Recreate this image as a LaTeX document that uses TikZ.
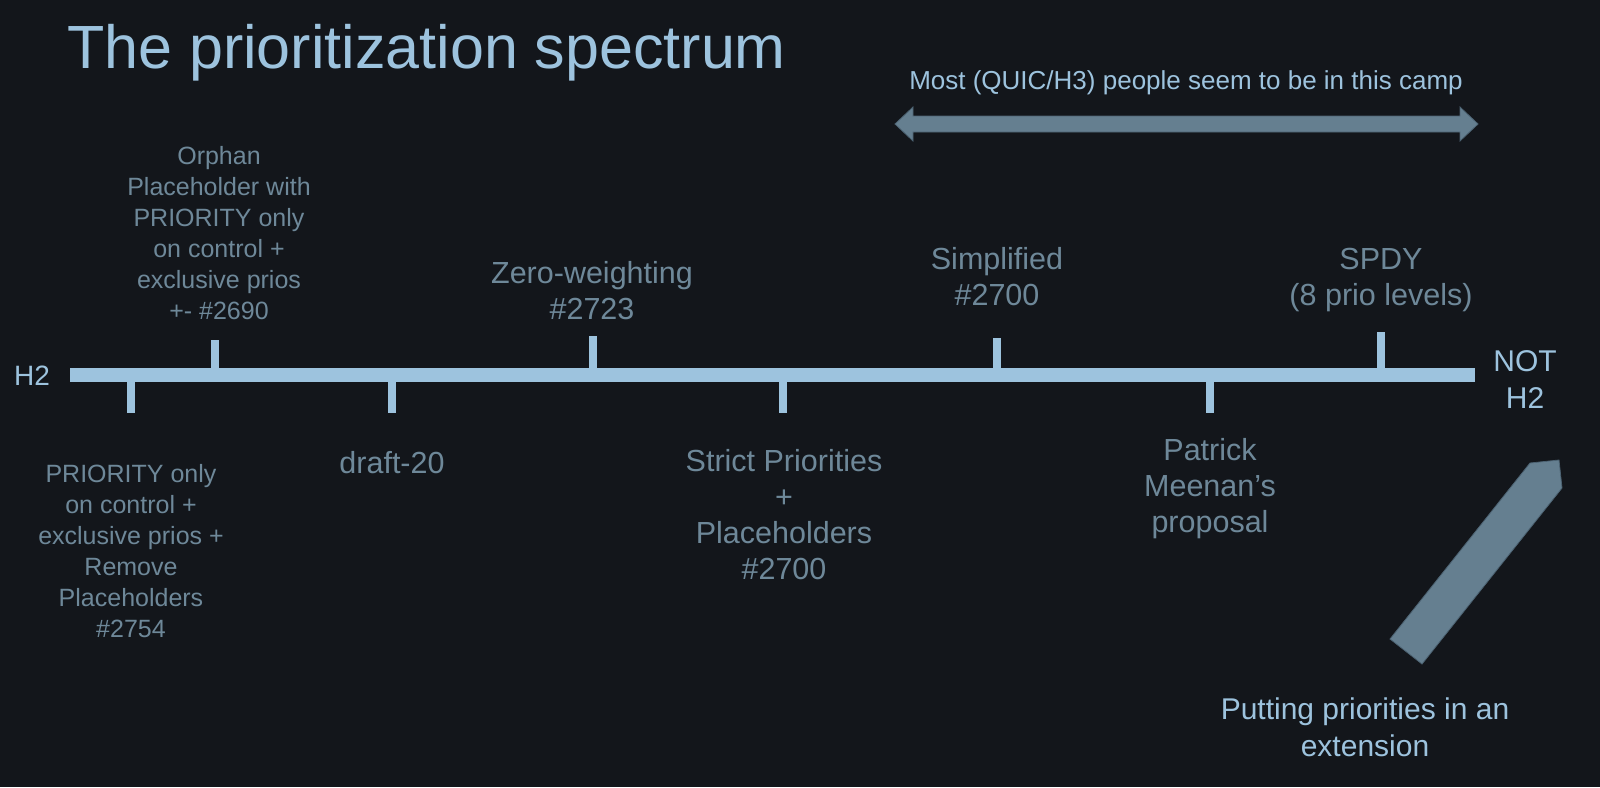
\documentclass[tikz,border=0pt]{standalone}
\usepackage{fontspec}
\setmainfont{Liberation Sans}
\usepackage{xcolor}
\definecolor{bgdark}{HTML}{13161B}
\definecolor{lightblue}{HTML}{9DC3DE}
\definecolor{labelgray}{HTML}{6E8899}
\definecolor{arrowgray}{HTML}{657F90}
\definecolor{arrowedge}{HTML}{4C6272}

\begin{document}
\begin{tikzpicture}[x=1pt, y=-1pt,
    smalllbl/.style={font=\fontsize{25}{31}\selectfont, text=labelgray, align=center, anchor=base, inner sep=0pt},
    biglbl/.style={font=\fontsize{30.5}{36}\selectfont, text=labelgray, align=center, anchor=base, inner sep=0pt},
    bluelbl/.style={font=\fontsize{30}{37}\selectfont, text=lightblue, align=center, anchor=base, inner sep=0pt},
    tickmark/.style={draw=lightblue, line width=8pt}]

    \fill[bgdark] (0, 0) rectangle (1600, 787);
    \useasboundingbox (0, 0) rectangle (1600, 787);

    % title
    \node[font=\fontsize{61}{70}\selectfont, text=lightblue, anchor=base west, inner sep=0pt] (title) at (67, 68) {The prioritization spectrum};

    % the spectrum bar
    \coordinate (barL) at (70, 375);
    \coordinate (barR) at (1475, 375);
    \draw[lightblue, line width=14pt] (barL) -- (barR);
    \node[bluelbl, font=\fontsize{28}{30}\selectfont] (h2) at (32, 385) {H2};
    \node[bluelbl] (noth2) at (1525, 408) {NOT\\H2};

    % ticks above
    \coordinate (up1) at (215, 375);
    \coordinate (up2) at (593, 375);
    \coordinate (up3) at (997, 375);
    \coordinate (up4) at (1381, 375);
    \draw[tickmark] (up1) -- ++(0, -35);
    \draw[tickmark] (up2) -- ++(0, -39);
    \draw[tickmark] (up3) -- ++(0, -37);
    \draw[tickmark] (up4) -- ++(0, -43);

    % ticks below
    \coordinate (dn1) at (131, 375);
    \coordinate (dn2) at (392, 375);
    \coordinate (dn3) at (783, 375);
    \coordinate (dn4) at (1210, 375);
    \draw[tickmark] (dn1) -- ++(0, 38);
    \draw[tickmark] (dn2) -- ++(0, 38);
    \draw[tickmark] (dn3) -- ++(0, 38);
    \draw[tickmark] (dn4) -- ++(0, 38);

    % labels above (anchored at the base of the last line)
    \node[smalllbl] (orphan) at (219, 319) {Orphan\\Placeholder with\\PRIORITY only\\on control +\\exclusive prios\\+- \#2690};
    \node[biglbl] (zero) at (592, 319) {Zero-weighting\\\#2723};
    \node[biglbl] (simple) at (997, 305) {Simplified\\\#2700};
    \node[biglbl] (spdy) at (1381, 305) {SPDY\\(8 prio levels)};

    % labels below
    \node[smalllbl] (remove) at (131, 637) {PRIORITY only\\on control +\\exclusive prios +\\Remove\\Placeholders\\\#2754};
    \node[biglbl] (draft) at (392, 473) {draft-20};
    \node[biglbl] (strict) at (784, 579) {Strict Priorities\\+\\Placeholders\\\#2700};
    \node[biglbl] (patrick) at (1210, 532) {Patrick\\Meenan’s\\proposal};

    % the camp
    \node[font=\fontsize{26}{30}\selectfont, text=lightblue, anchor=base, inner sep=0pt] (camp) at (1186, 89) {Most (QUIC/H3) people seem to be in this camp};
    \fill[arrowgray, draw=arrowedge, line width=0.8pt] (895, 124) -- (913, 107) -- (913, 116) -- (1460, 116)
        -- (1460, 107) -- (1478, 124) -- (1460, 141) -- (1460, 132) -- (913, 132) -- (913, 141) -- cycle;

    % extension
    \fill[arrowgray, draw=arrowedge, line width=0.8pt] (1390, 639) -- (1422, 664) -- (1562, 488) -- (1559, 460) -- (1530, 463) -- cycle;
    \node[bluelbl] (ext) at (1365, 756) {Putting priorities in an\\extension};
\end{tikzpicture}
\end{document}
